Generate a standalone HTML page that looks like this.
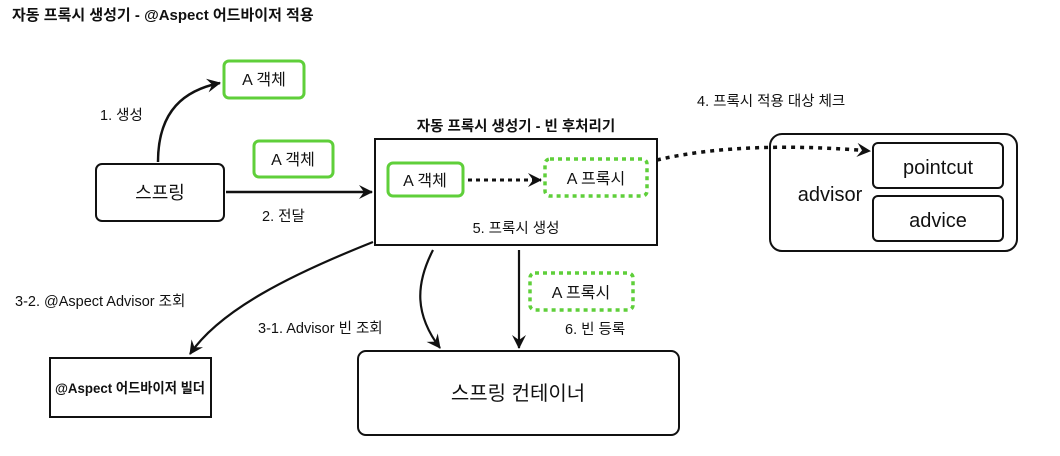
<!DOCTYPE html>
<html><head><meta charset="utf-8"><style>
body{margin:0;background:#fff;width:1060px;height:451px;overflow:hidden}
svg text{font-family:"Liberation Sans","Noto Sans CJK KR",sans-serif;fill:#111}
</style></head><body>
<svg width="1060" height="451" viewBox="0 0 1060 451" xmlns="http://www.w3.org/2000/svg">
<defs>
<marker id="ah" markerWidth="16" markerHeight="16" refX="13" refY="7" orient="auto" markerUnits="userSpaceOnUse">
<path d="M0,0 L14,7 L0,14 L5,7 Z" fill="#111"/></marker>
</defs>
<text x="12" y="20" font-size="15" font-weight="bold">자동 프록시 생성기 - @Aspect 어드바이저 적용</text>

<rect x="224" y="61" width="80" height="37" rx="5" fill="none" stroke="#5fcf3a" stroke-width="3"/>
<text x="264" y="85" font-size="16" text-anchor="middle">A 객체</text>
<path d="M158,162 C158,110 185,90 220,83" fill="none" stroke="#111" stroke-width="2.5" marker-end="url(#ah)"/>
<text x="100" y="120" font-size="14.5">1. 생성</text>

<rect x="96" y="164" width="128" height="57" rx="6" fill="none" stroke="#111" stroke-width="2"/>
<text x="160" y="199" font-size="18" text-anchor="middle">스프링</text>

<rect x="254" y="141" width="79" height="36" rx="5" fill="none" stroke="#5fcf3a" stroke-width="3"/>
<text x="293" y="165" font-size="16" text-anchor="middle">A 객체</text>
<line x1="226" y1="192" x2="372" y2="192" stroke="#111" stroke-width="2.5" marker-end="url(#ah)"/>
<text x="262" y="221" font-size="14.5">2. 전달</text>

<text x="516" y="131" font-size="14.5" font-weight="bold" text-anchor="middle">자동 프록시 생성기 - 빈 후처리기</text>
<rect x="375" y="139" width="282" height="106" fill="none" stroke="#111" stroke-width="2"/>
<rect x="388" y="163" width="75" height="33" rx="5" fill="none" stroke="#5fcf3a" stroke-width="3"/>
<text x="425" y="186" font-size="16" text-anchor="middle">A 객체</text>
<line x1="468" y1="180" x2="541" y2="180" stroke="#111" stroke-width="3" stroke-dasharray="4,4" marker-end="url(#ah)"/>
<rect x="545" y="159" width="102" height="37" rx="5" fill="none" stroke="#5fcf3a" stroke-width="3.5" stroke-dasharray="4,4"/>
<text x="596" y="184" font-size="16" text-anchor="middle">A 프록시</text>
<text x="516" y="233" font-size="14.5" text-anchor="middle">5. 프록시 생성</text>

<text x="697" y="106" font-size="14.5">4. 프록시 적용 대상 체크</text>
<path d="M657,160 C720,145 800,145 870,151" fill="none" stroke="#111" stroke-width="3.5" stroke-dasharray="4,5" marker-end="url(#ah)"/>
<rect x="770" y="134" width="247" height="117" rx="12" fill="none" stroke="#111" stroke-width="2"/>
<text x="830" y="201" font-size="20" text-anchor="middle">advisor</text>
<rect x="873" y="143" width="130" height="45" rx="5" fill="none" stroke="#111" stroke-width="2"/>
<text x="938" y="174" font-size="20" text-anchor="middle">pointcut</text>
<rect x="873" y="196" width="130" height="45" rx="5" fill="none" stroke="#111" stroke-width="2"/>
<text x="938" y="227" font-size="20" text-anchor="middle">advice</text>

<path d="M373,242 C290,275 220,310 190,354" fill="none" stroke="#111" stroke-width="2.2" marker-end="url(#ah)"/>
<text x="15" y="306" font-size="14.5">3-2. @Aspect Advisor 조회</text>
<rect x="50" y="358" width="161" height="59" fill="none" stroke="#111" stroke-width="2"/>
<text x="130" y="393" font-size="14" font-weight="bold" text-anchor="middle" textLength="150" lengthAdjust="spacingAndGlyphs">@Aspect 어드바이저 빌더</text>

<path d="M433,250 C415,285 415,315 440,348" fill="none" stroke="#111" stroke-width="2.2" marker-end="url(#ah)"/>
<text x="258" y="333" font-size="14.5">3-1. Advisor 빈 조회</text>
<line x1="519" y1="250" x2="519" y2="348" stroke="#111" stroke-width="2.2" marker-end="url(#ah)"/>
<rect x="530" y="273" width="103" height="37" rx="5" fill="none" stroke="#5fcf3a" stroke-width="3.5" stroke-dasharray="4,4"/>
<text x="581" y="298" font-size="16" text-anchor="middle">A 프록시</text>
<text x="565" y="334" font-size="14.5">6. 빈 등록</text>

<rect x="358" y="351" width="321" height="84" rx="8" fill="none" stroke="#111" stroke-width="2"/>
<text x="518" y="400" font-size="20" text-anchor="middle">스프링 컨테이너</text>
</svg>
</body></html>
